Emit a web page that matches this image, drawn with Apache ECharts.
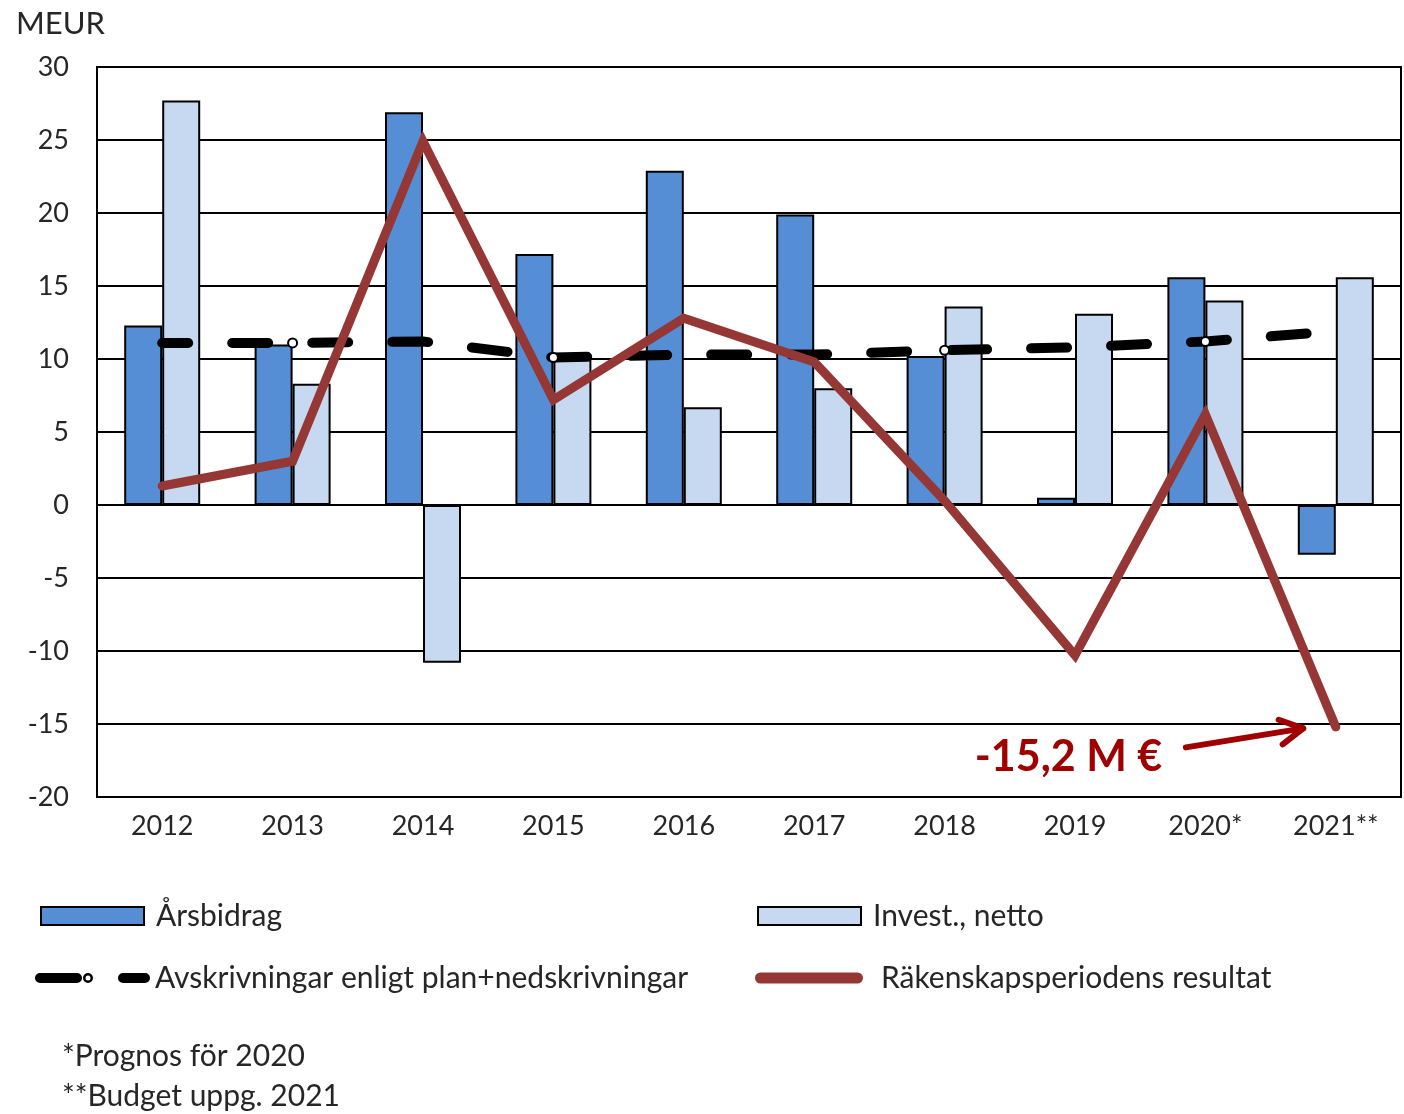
<!DOCTYPE html>
<html><head><meta charset="utf-8">
<script src="https://cdn.jsdelivr.net/npm/echarts@6/dist/echarts.min.js"></script>
<style>html,body{margin:0;padding:0;background:#fff}#c{width:1404px;height:1114px}</style>
</head><body><div id="c"></div>
<script>
const categories = ['2012','2013','2014','2015','2016','2017','2018','2019','2020*','2021**'];
const arsbidrag = [12.3, 11.0, 26.9, 17.2, 22.9, 19.9, 10.2, 0.5, 15.6, -3.4];
const investNetto = [27.7, 8.3, -10.8, 10.0, 6.7, 8.0, 13.6, 13.1, 14.0, 15.6];
const avskrivningar = [11.1, 11.1, 11.2, 10.1, 10.3, 10.3, 10.6, 10.8, 11.2, 11.9];
const resultat = [1.3, 3.0, 24.9, 7.2, 12.8, 9.8, 0.3, -10.3, 6.2, -15.2];
const yTicks = {min: -20, max: 30, interval: 5};
const annotationText = '-15,2 M €';
const footnotes = ['*Prognos för 2020', '**Budget uppg. 2021'];

const FONT = 'Lato';
const TXT = '#262626';
const markerShown = [1, 3, 6, 8];

const chart = echarts.init(document.getElementById('c'), null, {renderer: 'canvas'});

const legendCommon = {
  itemWidth: 103, itemHeight: 18, itemGap: 0, padding: 0,
  textStyle: {fontFamily: FONT, fontSize: 30, color: TXT},
  selectedMode: false
};
const dashIcon = 'path://M5,1 H42 A5,5 0 0 1 42,11 H5 A5,5 0 0 1 5,1 Z ' +
  'M48,6 A5,5 0 1 0 58,6 A5,5 0 1 0 48,6 Z M50.5,6 A2.5,2.5 0 1 1 55.5,6 A2.5,2.5 0 1 1 50.5,6 Z ' +
  'M88,1 H110 A5,5 0 0 1 110,11 H88 A5,5 0 0 1 88,1 Z';
const capsuleIcon = 'path://M5.5,0 H102.5 A5.5,5.5 0 0 1 102.5,11 H5.5 A5.5,5.5 0 0 1 5.5,0 Z';

const option = {
  backgroundColor: '#fff',
  animation: false,
  title: {text: 'MEUR', left: 11, top: 3,
    textStyle: {fontFamily: FONT, fontSize: 31, fontWeight: 'normal', color: TXT}},
  grid: {left: 97, right: 3, top: 67, bottom: 317, show: true, borderColor: '#000', borderWidth: 2},
  legend: [
    Object.assign({}, legendCommon, {left: 40, top: 901, icon: 'rect',
      textStyle: Object.assign({}, legendCommon.textStyle, {padding: [0, 0, 0, 7]}),
      data: ['Årsbidrag']}),
    Object.assign({}, legendCommon, {left: 757, top: 901, icon: 'rect',
      textStyle: Object.assign({}, legendCommon.textStyle, {padding: [0, 0, 0, 7]}),
      data: ['Invest., netto']}),
    Object.assign({}, legendCommon, {left: 35, top: 963, itemWidth: 115, itemHeight: 10,
      itemStyle: {color: '#000', borderWidth: 0},
      textStyle: Object.assign({}, legendCommon.textStyle, {padding: [0, 0, 0, 0]}),
      data: [{name: 'Avskrivningar enligt plan+nedskrivningar', icon: dashIcon}]}),
    Object.assign({}, legendCommon, {left: 755, top: 963, itemWidth: 108, itemHeight: 11,
      itemStyle: {color: '#953735', borderWidth: 0},
      textStyle: Object.assign({}, legendCommon.textStyle, {padding: [0, 0, 0, 13]}),
      data: [{name: 'Räkenskapsperiodens resultat', icon: capsuleIcon}]})
  ],
  xAxis: {
    type: 'category', data: categories,
    axisLine: {onZero: false, show: true, lineStyle: {color: '#000', width: 2}},
    axisTick: {show: false},
    axisLabel: {fontFamily: FONT, fontSize: 27, color: TXT, margin: 16}
  },
  yAxis: {
    type: 'value', min: yTicks.min, max: yTicks.max, interval: yTicks.interval,
    axisLine: {show: true, lineStyle: {color: '#000', width: 2}},
    axisTick: {show: false},
    axisLabel: {fontFamily: FONT, fontSize: 27, color: TXT, margin: 28},
    splitLine: {lineStyle: {color: '#000', width: 2}}
  },
  series: [
    {name: 'Årsbidrag', type: 'bar', data: arsbidrag, barWidth: 38, barGap: '0%',
      itemStyle: {color: '#558ED5', borderColor: '#000', borderWidth: 2}, z: 2},
    {name: 'Invest., netto', type: 'bar', data: investNetto, barWidth: 38,
      itemStyle: {color: '#C6D9F1', borderColor: '#000', borderWidth: 2}, z: 2},
    {name: 'Avskrivningar enligt plan+nedskrivningar', type: 'line',
      data: avskrivningar.map((v, i) => markerShown.includes(i) ? {value: v} : {value: v, symbol: 'none'}),
      symbol: 'emptyCircle', symbolSize: 9, showSymbol: true,
      itemStyle: {color: '#000', borderColor: '#000', borderWidth: 1.5},
      lineStyle: {color: '#000', width: 10, type: [36, 44], dashOffset: 10, cap: 'round'},
      z: 3},
    {name: 'Räkenskapsperiodens resultat', type: 'line', data: resultat,
      symbol: 'none', showSymbol: false,
      itemStyle: {color: '#953735'},
      lineStyle: {color: '#953735', width: 9, cap: 'round', join: 'miter'},
      z: 4}
  ]
};
chart.setOption(option);

function px(idx, val) {
  const i0 = Math.floor(idx), i1 = Math.min(i0 + 1, categories.length - 1);
  const a = chart.convertToPixel({gridIndex: 0}, [i0, val]);
  const b = chart.convertToPixel({gridIndex: 0}, [i1, val]);
  const t = idx - i0;
  return [a[0] + (b[0] - a[0]) * t, a[1]];
}
const tail = px(7.85, -16.6);
const head = px(8.75, -15.3);
const txtPos = px(6.95, -17.3);
const ang = Math.atan2(head[1] - tail[1], head[0] - tail[0]);
const hl = 26, ha = 0.5;
const h1 = [head[0] - hl * Math.cos(ang - ha), head[1] - hl * Math.sin(ang - ha)];
const h2 = [head[0] - hl * Math.cos(ang + ha), head[1] - hl * Math.sin(ang + ha)];

chart.setOption({
  graphic: [
    {type: 'text', left: 62, top: 1041,
      style: {text: footnotes[0], font: '30px ' + FONT, fill: TXT}},
    {type: 'text', left: 62, top: 1081,
      style: {text: footnotes[1], font: '30px ' + FONT, fill: TXT}},
    {type: 'text', x: txtPos[0], y: txtPos[1], z: 10,
      style: {text: annotationText, font: 'bold 43px ' + FONT, fill: '#A00000', align: 'center', verticalAlign: 'middle'}},
    {type: 'polyline', z: 10, shape: {points: [tail, head]},
      style: {stroke: '#A00000', lineWidth: 6, lineCap: 'round'}},
    {type: 'polyline', z: 10, shape: {points: [h1, head, h2]},
      style: {stroke: '#A00000', lineWidth: 6, lineCap: 'round', lineJoin: 'round', fill: null}}
  ]
});
</script></body></html>
